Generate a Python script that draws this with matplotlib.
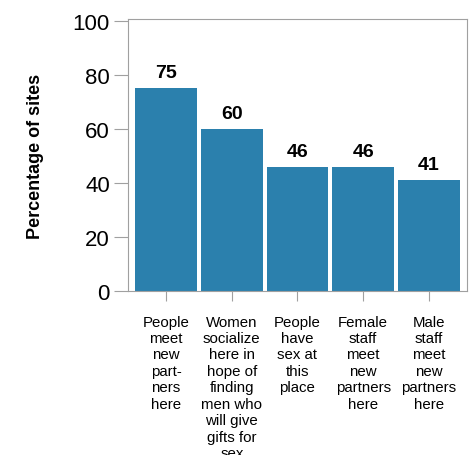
import matplotlib
matplotlib.use("Agg")
import matplotlib.pyplot as plt

categories = [
    "People\nmeet\nnew\npart-\nners\nhere",
    "Women\nsocialize\nhere in\nhope of\nfinding\nmen who\nwill give\ngifts for\nsex",
    "People\nhave\nsex at\nthis\nplace",
    "Female\nstaff\nmeet\nnew\npartners\nhere",
    "Male\nstaff\nmeet\nnew\npartners\nhere",
]
values = [75, 60, 46, 46, 41]
yticks = [0, 20, 40, 60, 80, 100]

BAR_COLOR = "#2b80ad"
FRAME_COLOR = "#a0a0a0"

plt.rcParams["font.family"] = ["Liberation Sans", "DejaVu Sans"]

fig = plt.figure(figsize=(4.75, 4.56), dpi=100)
ax = fig.add_axes([0.2695, 0.3596, 0.7135, 0.5965])

x = range(len(values))
bars = ax.bar(x, values, width=0.94, color=BAR_COLOR, edgecolor="none")
for b, v in zip(bars, values):
    ax.annotate(str(v), (b.get_x() + b.get_width() / 2, v),
                xytext=(0, 5), textcoords="offset points",
                ha="center", va="bottom", fontsize=14, fontweight="bold")

ax.set_xlim(-0.58, 4.58)
ax.set_ylim(0, 100.7)
ax.set_yticks(yticks)
ax.set_yticklabels([str(t) for t in yticks], fontsize=16)
ax.set_xticks(list(x))
ax.set_xticklabels(categories, fontsize=10.8, linespacing=1.22)
ax.tick_params(axis="y", length=10, width=0.8, color=FRAME_COLOR, pad=3)
ax.tick_params(axis="x", length=7, width=0.8, color=FRAME_COLOR, pad=10)

for sp in ax.spines.values():
    sp.set_color(FRAME_COLOR)
    sp.set_linewidth(0.8)

ax.set_ylabel("Percentage of sites", fontsize=13, fontweight="bold", labelpad=21)

fig.savefig("out.png", dpi=100)
plt.close(fig)
